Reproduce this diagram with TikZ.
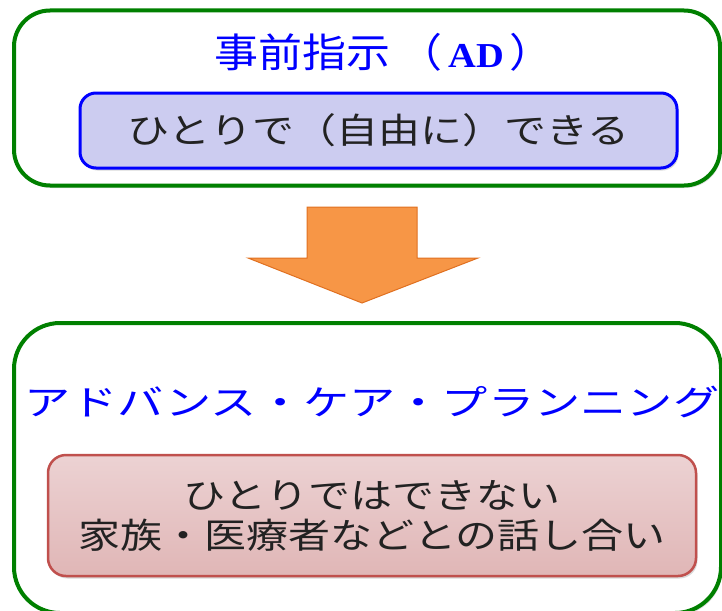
\documentclass[tikz,border=0pt]{standalone}
\usepackage{fontspec}
\usetikzlibrary{shadows}
\newfontfamily\jp[FakeStretch=1.2]{Noto Sans CJK JP}
\newfontfamily\jpw[FakeStretch=1.32]{Noto Sans CJK JP}
\newfontfamily\jpt[FakeStretch=1.1]{Noto Sans CJK JP}
\newfontfamily\adfont[FakeStretch=1.1]{Liberation Serif}
\definecolor{outergreen}{RGB}{0,128,0}
\definecolor{boxblue}{RGB}{0,0,255}
\definecolor{lavender}{RGB}{204,204,240}
\definecolor{redline}{RGB}{192,80,77}
\definecolor{pinktop}{RGB}{236,210,211}
\definecolor{pinkbot}{RGB}{224,182,182}
\definecolor{arrowfill}{RGB}{247,150,70}
\definecolor{arrowline}{RGB}{224,112,32}
\definecolor{inktext}{RGB}{34,34,34}
\tikzset{
  outerbox/.style={draw=outergreen, line width=4pt, fill=white, inner sep=0pt,
    drop shadow={shadow xshift=1.5pt, shadow yshift=-2.5pt, opacity=0.25}},
  titletext/.style={text=boxblue, inner sep=0pt},
  adbox/.style={draw=boxblue, line width=3pt, fill=lavender, rounded corners=16pt,
    inner sep=0pt, text=inktext, font=\fontsize{35}{42}\selectfont\jp,
    drop shadow={shadow xshift=1.5pt, shadow yshift=-2.5pt, opacity=0.3}},
  acpbox/.style={draw=redline, line width=2.5pt, top color=pinktop, bottom color=pinkbot,
    rounded corners=18pt, inner sep=0pt, text=inktext, align=center,
    font=\fontsize{35}{40}\selectfont\jp,
    drop shadow={shadow xshift=1.5pt, shadow yshift=-2.5pt, opacity=0.3}},
  bigarrow/.style={fill=arrowfill, draw=arrowline, line width=1pt, line join=miter}
}
\begin{document}
\begin{tikzpicture}[x=1pt, y=-1pt]
\useasboundingbox (0,0) rectangle (722,610);
\clip (0,0) rectangle (722,610);
% top box
\node[outerbox, rounded corners=36pt, minimum width=706pt, minimum height=175pt] (topbox) at (367,98) {};
\node[titletext, anchor=west] (toptitle) at (214,52) {\fontsize{40}{44}\selectfont\jpt 事前指示\hspace{8pt}（\hspace{6pt}{\adfont\bfseries\fontsize{35}{38}\selectfont AD}\hspace{6pt}）};
\node[adbox, minimum width=597pt, minimum height=75pt] (adinner) at (378.5,130.5)
  {ひとりで（自由に）できる};
% arrow
\coordinate (a1) at (307,207);
\coordinate (a2) at (417,207);
\coordinate (a3) at (417,258);
\coordinate (a4) at (478,258);
\coordinate (a5) at (362,303);
\coordinate (a6) at (248,258);
\coordinate (a7) at (307,258);
\draw[bigarrow] (a1) -- (a2) -- (a3) -- (a4) -- (a5) -- (a6) -- (a7) -- cycle;
% bottom box
\node[outerbox, rounded corners=46pt, minimum width=707pt, minimum height=290pt] (botbox) at (367.5,468) {};
\node[titletext] (bottitle) at (372,402) {\fontsize{35}{40}\selectfont\jpw アドバンス・ケア・プランニング};
\node[acpbox, minimum width=648pt, minimum height=121pt] (acpinner) at (372,515.5)
  {ひとりではできない\\家族・医療者などとの話し合い};
\end{tikzpicture}
\end{document}
